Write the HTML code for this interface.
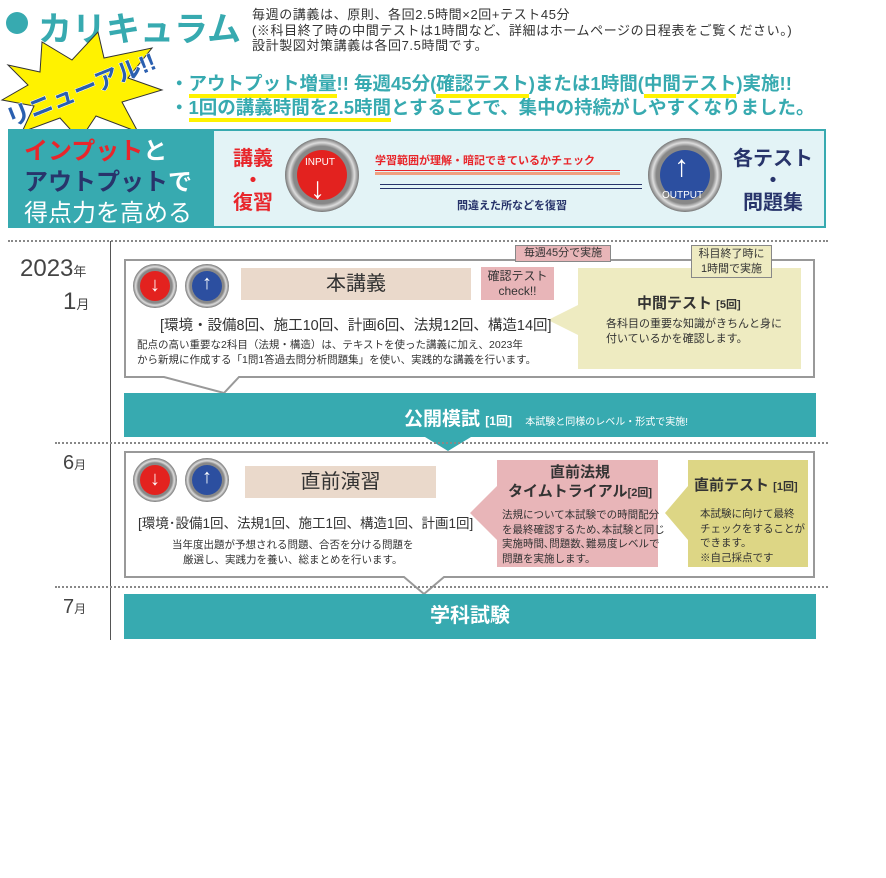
<!DOCTYPE html><html><head><meta charset="utf-8"><style>
*{margin:0;padding:0;box-sizing:border-box}
body{width:886px;height:878px;background:#fff;position:relative;overflow:hidden;font-family:"Liberation Sans","Noto Sans CJK JP",sans-serif;color:#333}
.a{position:absolute;white-space:nowrap}
.teal{background:#37aab0}
.dot{border-top:2px dotted #888}
.ic{position:absolute;border-radius:50%;background:radial-gradient(circle,#888 55%,#ddd 62%,#666 72%,#bbb 100%)}
.ic i{position:absolute;left:16%;top:16%;width:68%;height:68%;border-radius:50%}
.ic b{position:absolute;left:0;width:100%;text-align:center;color:#fff;font-weight:bold}
</style></head><body>
<div class="a" style="left:6px;top:12px;width:22px;height:22px;border-radius:50%;background:#37aab0"></div>
<div class="a" style="left:38px;top:2px;font-size:34px;font-weight:bold;color:#37aab0">カリキュラム</div>
<div class="a" style="left:252px;top:7px;font-size:13px;line-height:15.5px;letter-spacing:0.6px">毎週の講義は、原則、各回2.5時間×2回+テスト45分<br>(※科目終了時の中間テストは1時間など、詳細はホームページの日程表をご覧ください。)<br>設計製図対策講義は各回7.5時間です。</div>
<svg class="a" style="left:0;top:30px" width="170" height="110"><polygon points="8,35 40,42 42,12 72,30 98,2 104,28 152,18 128,48 162,60 122,72 138,102 96,86 80,110 60,88 22,102 34,76 2,70 28,55" fill="#fff200" stroke="#333" stroke-width="1"/><text x="82" y="68" text-anchor="middle" transform="rotate(-22 82 62)" font-size="24" font-weight="bold" fill="#2a5fb0" stroke="#fff" stroke-width="1" paint-order="stroke" font-family="Liberation Sans,Noto Sans CJK JP,sans-serif">リニューアル!!</text></svg>
<div class="a" style="left:170px;top:72px;font-size:18.5px;font-weight:bold;color:#37aab0;line-height:24px">・<span style="border-bottom:4px solid #fff200">アウトプット増量</span>!! 毎週45分(<span style="border-bottom:4px solid #fff200">確認テスト</span>)または1時間(<span style="border-bottom:4px solid #fff200">中間テスト</span>)実施!!<br>・<span style="border-bottom:4px solid #fff200">1回の講義時間を2.5時間</span>とすることで、集中の持続がしやすくなりました。</div>
<div class="a" style="left:8px;top:129px;width:818px;height:99px;border:2px solid #37aab0;background:#e3f3f6"></div>
<div class="a teal" style="left:8px;top:129px;width:206px;height:99px"></div>
<div class="a" style="left:24px;top:136px;font-size:24px;font-weight:bold;line-height:31px;color:#fff"><span style="color:#e8262b">インプット</span>と<br><span style="color:#28346b">アウトプット</span>で<br><span style="font-weight:normal">得点力を高める</span></div>
<div class="a" style="left:233px;top:148px;font-size:20px;font-weight:bold;color:#e8262b;line-height:22px;text-align:center">講義<br>・<br>復習</div>
<div class="ic" style="left:285px;top:138px;width:74px;height:74px"><i style="background:#e3221f"></i></div>
<div class="a" style="left:305px;top:157px;font-size:10px;color:#fff">INPUT</div>
<div class="a" style="left:310px;top:172px;font-size:30px;color:#fff;font-weight:bold">↓</div>
<div class="ic" style="left:648px;top:138px;width:74px;height:74px"><i style="background:#2c4fa0"></i></div>
<div class="a" style="left:662px;top:190px;font-size:10px;color:#fff">OUTPUT</div>
<div class="a" style="left:674px;top:150px;font-size:30px;color:#fff;font-weight:bold">↑</div>
<div class="a" style="left:375px;top:152px;font-size:11px;font-weight:bold;color:#e8262b">学習範囲が理解・暗記できているかチェック</div>
<div class="a" style="left:375px;top:170px;width:245px;border-top:1px solid #e8262b;border-bottom:3px solid #f0a080;height:5px"></div>
<div class="a" style="left:380px;top:184px;width:262px;border-top:1px solid #28346b;border-bottom:1px solid #28346b;height:5px"></div>
<div class="a" style="left:457px;top:197px;font-size:11px;font-weight:bold;color:#28346b">間違えた所などを復習</div>
<div class="a" style="left:733px;top:148px;font-size:20px;font-weight:bold;color:#28346b;line-height:22px;text-align:center">各テスト<br>・<br>問題集</div>
<div class="a dot" style="left:8px;top:240px;width:820px"></div>
<div class="a" style="left:110px;top:241px;width:1px;height:399px;background:#555"></div>
<div class="a" style="left:20px;top:255px;font-size:24px;color:#444">2023<span style="font-size:13px">年</span></div>
<div class="a" style="left:63px;top:288px;font-size:24px;color:#444">1<span style="font-size:13px">月</span></div>
<svg class="a" style="left:124px;top:259px" width="692" height="136"><polygon points="1,1 690,1 690,118 115,118 100,134 40,118 1,118" fill="#fff" stroke="#999" stroke-width="2"/></svg>
<div class="ic" style="left:133px;top:264px;width:44px;height:44px"><i style="background:#e3221f"></i><b style="top:10px;font-size:20px">↓</b></div>
<div class="ic" style="left:185px;top:264px;width:44px;height:44px"><i style="background:#2c4fa0"></i><b style="top:8px;font-size:20px">↑</b></div>
<div class="a" style="left:241px;top:268px;width:230px;height:32px;background:#ead9cb;font-size:20px;text-align:center;line-height:32px">本講義</div>
<div class="a" style="left:481px;top:267px;width:73px;height:33px;background:#e8b5b8;font-size:12px;text-align:center;line-height:15px;padding-top:2px">確認テスト<br>check!!</div>
<div class="a" style="left:515px;top:245px;width:96px;height:17px;background:#e8b5b8;border:1px solid #888;font-size:11px;text-align:center;line-height:15px">毎週45分で実施</div>
<svg class="a" style="left:545px;top:268px" width="260" height="102"><polygon points="33,0 256,0 256,101 33,101 33,67 3,52 33,37" fill="#eeebc1"/></svg>
<div class="a" style="left:691px;top:245px;width:81px;height:33px;background:#eeebc1;border:1px solid #888;font-size:11px;text-align:center;line-height:15px;padding-top:1px">科目終了時に<br>1時間で実施</div>
<div class="a" style="left:637px;top:292px;font-size:15px;font-weight:bold">中間テスト <span style="font-size:11px">[5回]</span></div>
<div class="a" style="left:606px;top:317px;font-size:11px;line-height:15px">各科目の重要な知識がきちんと身に<br>付いているかを確認します。</div>
<div class="a" style="left:160px;top:314px;font-size:14.5px">[環境・設備8回、施工10回、計画6回、法規12回、構造14回]</div>
<div class="a" style="left:137px;top:338px;font-size:10.5px;line-height:15px">配点の高い重要な2科目（法規・構造）は、テキストを使った講義に加え、2023年<br>から新規に作成する「1問1答過去問分析問題集」を使い、実践的な講義を行います。</div>
<div class="a teal" style="left:124px;top:393px;width:692px;height:44px"></div>
<svg class="a" style="left:425px;top:437px" width="46" height="14"><polygon points="0,0 46,0 23,14" fill="#37aab0"/></svg>
<div class="a" style="left:404px;top:404px;font-size:19px;color:#fff;font-weight:bold">公開模試 <span style="font-size:12px">[1回]</span> <span style="font-size:10px;font-weight:normal;margin-left:8px">本試験と同様のレベル・形式で実施!</span></div>
<div class="a dot" style="left:55px;top:442px;width:773px"></div>
<div class="a" style="left:63px;top:452px;font-size:20px;color:#444">6<span style="font-size:12px">月</span></div>
<svg class="a" style="left:124px;top:451px" width="692" height="146"><polygon points="1,1 690,1 690,126 320,126 300,143 280,126 1,126" fill="#fff" stroke="#999" stroke-width="2"/></svg>
<div class="ic" style="left:133px;top:458px;width:44px;height:44px"><i style="background:#e3221f"></i><b style="top:10px;font-size:20px">↓</b></div>
<div class="ic" style="left:185px;top:458px;width:44px;height:44px"><i style="background:#2c4fa0"></i><b style="top:8px;font-size:20px">↑</b></div>
<div class="a" style="left:245px;top:466px;width:191px;height:32px;background:#ead9cb;font-size:20px;text-align:center;line-height:32px">直前演習</div>
<div class="a" style="left:138px;top:512px;font-size:13.5px">[環境･設備1回、法規1回、施工1回、構造1回、計画1回]</div>
<div class="a" style="left:172px;top:538px;font-size:10.5px;line-height:15px;text-align:center">当年度出題が予想される問題、合否を分ける問題を<br>厳選し、実践力を養い、総まとめを行います。</div>
<svg class="a" style="left:468px;top:460px" width="350" height="108"><polygon points="29,0 190,0 190,107 29,107 29,80 2,53 29,26" fill="#e8b5b8"/><polygon points="220,0 340,0 340,107 220,107 220,80 197,53 220,26" fill="#ddd685"/></svg>
<div class="a" style="left:508px;top:463px;font-size:15px;font-weight:bold;line-height:19px;text-align:center">直前法規<br>タイムトライアル<span style="font-size:11px">[2回]</span></div>
<div class="a" style="left:502px;top:508px;font-size:10.5px;line-height:14.5px">法規について本試験での時間配分<br>を最終確認するため､本試験と同じ<br>実施時間､問題数､難易度レベルで<br>問題を実施します。</div>
<div class="a" style="left:694px;top:474px;font-size:15px;font-weight:bold">直前テスト <span style="font-size:11px">[1回]</span></div>
<div class="a" style="left:700px;top:507px;font-size:10.5px;line-height:14.5px">本試験に向けて最終<br>チェックをすることが<br>できます。<br>※自己採点です</div>
<div class="a dot" style="left:55px;top:586px;width:773px"></div>
<div class="a" style="left:63px;top:596px;font-size:20px;color:#444">7<span style="font-size:12px">月</span></div>
<div class="a teal" style="left:124px;top:594px;width:692px;height:45px;color:#fff;font-size:20px;font-weight:bold;text-align:center;line-height:45px">学科試験</div>
</body></html>
